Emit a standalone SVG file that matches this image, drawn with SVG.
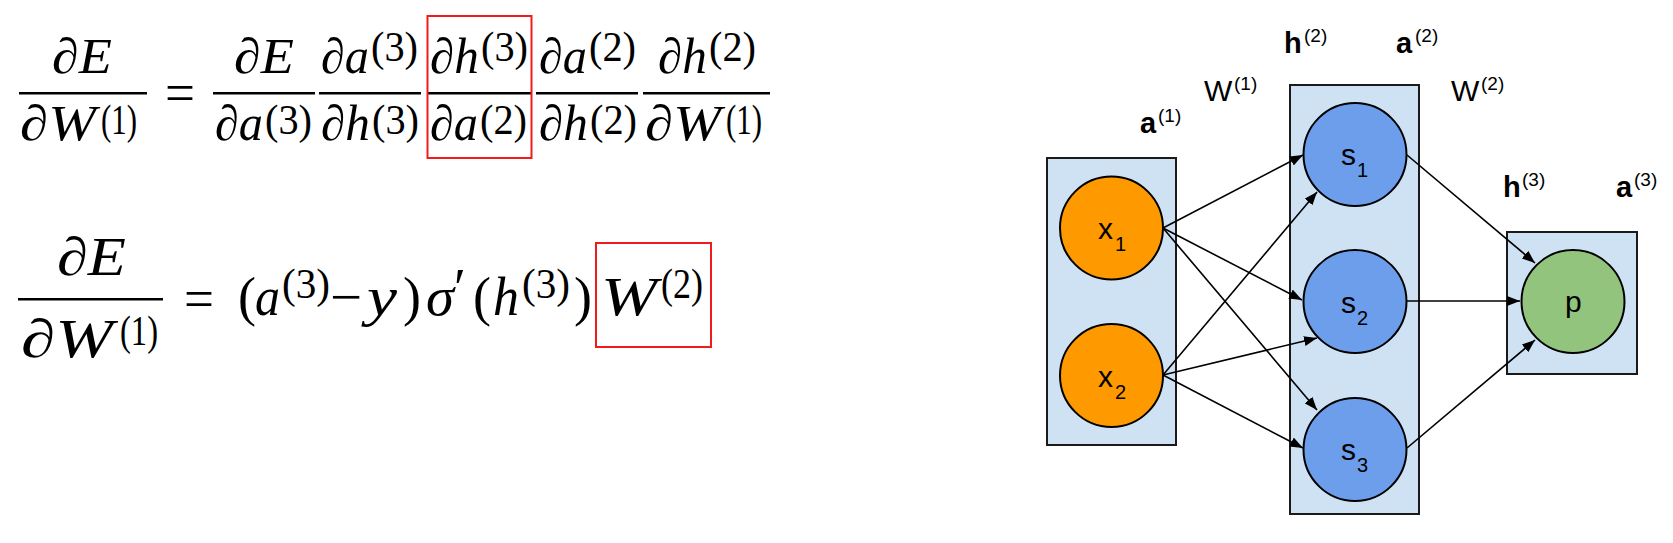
<svg xmlns="http://www.w3.org/2000/svg" width="1673" height="543" viewBox="0 0 1673 543">
<style>
  .m{font-family:"Liberation Serif",serif;font-style:italic;font-size:50px;fill:#000}
  .m2{font-family:"Liberation Serif",serif;font-style:italic;font-size:54px;fill:#000}
  .r{font-family:"Liberation Serif",serif;font-size:54px;fill:#000}
  .sup{font-family:"Liberation Serif",serif;font-size:42px;fill:#000}
  .eq{font-family:"Liberation Serif",serif;font-size:56px;fill:#000}
  .bar{fill:#000}
  .hl{fill:none;stroke:#f01c1c;stroke-width:2}
  .layer{fill:#cfe2f3;stroke:#1a1a1a;stroke-width:2}
  .in{fill:#ff9900;stroke:#000;stroke-width:2}
  .hid{fill:#6d9eeb;stroke:#000;stroke-width:2}
  .out{fill:#93c47d;stroke:#000;stroke-width:2}
  .lbl{font-family:"Liberation Sans",Arial,sans-serif;font-size:30px;fill:#000}
  .sub{font-family:"Liberation Sans",Arial,sans-serif;font-size:20px;fill:#000}
  .tb{font-family:"Liberation Sans",Arial,sans-serif;font-size:29px;font-weight:bold;fill:#000}
  .tn{font-family:"Liberation Sans",Arial,sans-serif;font-size:30px;fill:#000}
  .ts{font-family:"Liberation Sans",Arial,sans-serif;font-size:19px;fill:#000}
  .edge{stroke:#000;stroke-width:1.6;fill:none;marker-end:url(#ah)}
</style>
<defs>
  <marker id="ah" markerUnits="userSpaceOnUse" markerWidth="13" markerHeight="10" refX="13" refY="5" orient="auto">
    <path d="M0,0 L13,5 L0,10 z" fill="#000"/>
  </marker>
</defs>
<rect width="1673" height="543" fill="#fff"/>

<!-- Equation 1 -->
<g id="equation1">
  <text class="m" x="52" y="73" textLength="60" lengthAdjust="spacingAndGlyphs">∂E</text>
  <rect class="bar" x="19" y="92" width="128" height="2.5"/>
  <text class="m" x="20" y="140" textLength="76" lengthAdjust="spacingAndGlyphs">∂W</text>
  <text class="sup" x="101" y="134" textLength="36" lengthAdjust="spacingAndGlyphs">(1)</text>

  <text class="eq" x="165" y="112" textLength="30" lengthAdjust="spacingAndGlyphs">=</text>

  <text class="m" x="234" y="73" textLength="60" lengthAdjust="spacingAndGlyphs">∂E</text>
  <rect class="bar" x="213" y="92" width="102" height="2.5"/>
  <text class="m" x="215" y="140" textLength="48" lengthAdjust="spacingAndGlyphs">∂a</text>
  <text class="sup" x="265" y="134" textLength="47" lengthAdjust="spacingAndGlyphs">(3)</text>

  <text class="m" x="321" y="73" textLength="48" lengthAdjust="spacingAndGlyphs">∂a</text>
  <text class="sup" x="371" y="61" textLength="47" lengthAdjust="spacingAndGlyphs">(3)</text>
  <rect class="bar" x="319" y="92" width="102" height="2.5"/>
  <text class="m" x="321" y="140" textLength="49" lengthAdjust="spacingAndGlyphs">∂h</text>
  <text class="sup" x="372" y="134" textLength="47" lengthAdjust="spacingAndGlyphs">(3)</text>

  <text class="m" x="430" y="73" textLength="49" lengthAdjust="spacingAndGlyphs">∂h</text>
  <text class="sup" x="481" y="61" textLength="47" lengthAdjust="spacingAndGlyphs">(3)</text>
  <rect class="bar" x="427" y="92" width="104" height="2.5"/>
  <text class="m" x="430" y="140" textLength="48" lengthAdjust="spacingAndGlyphs">∂a</text>
  <text class="sup" x="480" y="134" textLength="47" lengthAdjust="spacingAndGlyphs">(2)</text>
  <rect class="hl" x="427.5" y="16" width="104" height="142"/>

  <text class="m" x="539" y="73" textLength="48" lengthAdjust="spacingAndGlyphs">∂a</text>
  <text class="sup" x="589" y="61" textLength="47" lengthAdjust="spacingAndGlyphs">(2)</text>
  <rect class="bar" x="536" y="92" width="102" height="2.5"/>
  <text class="m" x="539" y="140" textLength="49" lengthAdjust="spacingAndGlyphs">∂h</text>
  <text class="sup" x="590" y="134" textLength="47" lengthAdjust="spacingAndGlyphs">(2)</text>

  <text class="m" x="658" y="73" textLength="49" lengthAdjust="spacingAndGlyphs">∂h</text>
  <text class="sup" x="709" y="61" textLength="47" lengthAdjust="spacingAndGlyphs">(2)</text>
  <rect class="bar" x="643" y="92" width="127" height="2.5"/>
  <text class="m" x="645" y="140" textLength="76" lengthAdjust="spacingAndGlyphs">∂W</text>
  <text class="sup" x="726" y="134" textLength="36" lengthAdjust="spacingAndGlyphs">(1)</text>
</g>

<!-- Equation 2 -->
<g id="equation2">
  <text class="m2" x="57" y="275" textLength="69" lengthAdjust="spacingAndGlyphs">∂E</text>
  <rect class="bar" x="18" y="298" width="145" height="2.5"/>
  <text class="m2" x="21" y="357" textLength="92" lengthAdjust="spacingAndGlyphs">∂W</text>
  <text class="sup" x="120" y="345" textLength="38" lengthAdjust="spacingAndGlyphs">(1)</text>

  <text class="eq" x="184" y="318" textLength="30" lengthAdjust="spacingAndGlyphs">=</text>

  <text class="r" x="238" y="315">(</text>
  <text class="m2" x="255" y="315" textLength="25" lengthAdjust="spacingAndGlyphs">a</text>
  <text class="sup" x="282" y="298" textLength="48" lengthAdjust="spacingAndGlyphs">(3)</text>
  <text class="r" x="330" y="315" textLength="32" lengthAdjust="spacingAndGlyphs">−</text>
  <text class="m2" x="367" y="315" textLength="30" lengthAdjust="spacingAndGlyphs">y</text>
  <text class="r" x="403" y="315">)</text>
  <text class="m2" x="426" y="315" textLength="28" lengthAdjust="spacingAndGlyphs">σ</text>
  <text class="r" x="454" y="306">′</text>
  <text class="r" x="473" y="315">(</text>
  <text class="m2" x="493" y="315" textLength="26" lengthAdjust="spacingAndGlyphs">h</text>
  <text class="sup" x="522" y="298" textLength="48" lengthAdjust="spacingAndGlyphs">(3)</text>
  <text class="r" x="574" y="315">)</text>
  <text class="m2" x="601" y="315" textLength="56" lengthAdjust="spacingAndGlyphs">W</text>
  <text class="sup" x="661" y="298" textLength="42" lengthAdjust="spacingAndGlyphs">(2)</text>
  <rect class="hl" x="596" y="243" width="115" height="104"/>
</g>

<!-- Layer boxes -->
<g id="layer1"><rect class="layer" x="1047" y="158" width="129" height="287"/></g>
<g id="layer2"><rect class="layer" x="1290" y="85" width="129" height="429"/></g>
<g id="layer3"><rect class="layer" x="1507" y="232" width="130" height="142"/></g>

<!-- Layer labels -->
<g id="labels">
  <text class="tb" x="1140" y="133">a</text><text class="ts" x="1158" y="122">(1)</text>
  <text class="tn" x="1204" y="101">W</text><text class="ts" x="1234" y="90">(1)</text>
  <text class="tb" x="1284" y="53">h</text><text class="ts" x="1304" y="42">(2)</text>
  <text class="tb" x="1396" y="53">a</text><text class="ts" x="1415" y="42">(2)</text>
  <text class="tn" x="1451" y="101">W</text><text class="ts" x="1481" y="90">(2)</text>
  <text class="tb" x="1503" y="197">h</text><text class="ts" x="1522" y="186">(3)</text>
  <text class="tb" x="1616" y="197">a</text><text class="ts" x="1634" y="186">(3)</text>
</g>

<!-- Nodes -->
<g id="x1"><circle class="in" cx="1111.5" cy="228" r="51.5"/><text class="lbl" x="1098" y="239">x</text><text class="sub" x="1115" y="251">1</text></g>
<g id="x2"><circle class="in" cx="1111.5" cy="375.5" r="51.5"/><text class="lbl" x="1098" y="387">x</text><text class="sub" x="1115" y="399">2</text></g>
<g id="s1"><circle class="hid" cx="1355" cy="154.5" r="51.5"/><text class="lbl" x="1341" y="165">s</text><text class="sub" x="1357" y="177">1</text></g>
<g id="s2"><circle class="hid" cx="1355" cy="301.5" r="51.5"/><text class="lbl" x="1341" y="313">s</text><text class="sub" x="1357" y="325">2</text></g>
<g id="s3"><circle class="hid" cx="1355" cy="449.5" r="51.5"/><text class="lbl" x="1341" y="460">s</text><text class="sub" x="1357" y="472">3</text></g>
<g id="p"><circle class="out" cx="1573" cy="301.5" r="51.5"/><text class="lbl" x="1565" y="312">p</text></g>

<!-- Connectors -->
<g id="connectors">
  <line class="edge" x1="1163" y1="228" x2="1303" y2="155"/>
  <line class="edge" x1="1163" y1="228" x2="1302" y2="300"/>
  <line class="edge" x1="1163" y1="228" x2="1317" y2="410"/>
  <line class="edge" x1="1163" y1="375" x2="1317" y2="192"/>
  <line class="edge" x1="1163" y1="375" x2="1317" y2="338"/>
  <line class="edge" x1="1163" y1="375" x2="1303" y2="448"/>
  <line class="edge" x1="1407" y1="155" x2="1535" y2="263"/>
  <line class="edge" x1="1407" y1="301" x2="1520" y2="301"/>
  <line class="edge" x1="1407" y1="448" x2="1535" y2="340"/>
</g>
</svg>
